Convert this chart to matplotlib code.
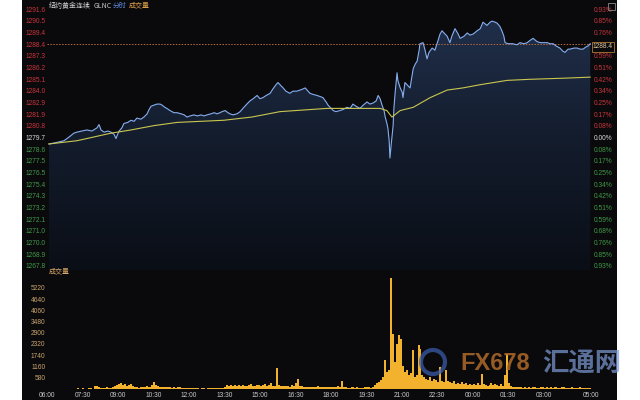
import numpy as np
import matplotlib
matplotlib.use("Agg")
import matplotlib.pyplot as plt
from matplotlib.patches import Rectangle, Circle
from matplotlib.colors import LinearSegmentedColormap

plt.rcParams['font.family'] = ['Liberation Sans', 'Noto Sans CJK SC', 'DejaVu Sans']

# ---------------- data ----------------
ref_close = 1279.7
# minutes after 06:00
price_minutes = [5, 20, 43, 58, 68, 76, 89, 101, 114, 127, 132, 137, 145, 155, 162, 170, 175, 178, 183, 190,
                 195, 205, 213, 221, 228, 238, 246, 254, 259, 264, 271, 279, 287, 292, 299, 304, 312, 322, 330, 340,
                 348, 355, 363, 373, 381, 391, 398, 406, 416, 424, 431, 439, 444, 452, 459, 464, 472, 482, 490, 497,
                 507, 515, 523, 533, 540, 548, 556, 566, 573, 581, 586, 591, 599, 606, 616, 624, 634, 642, 649, 655,
                 662, 667, 675, 685, 693, 700, 708, 713, 721, 726, 733, 743, 751, 761, 769, 776, 784, 794, 802, 812,
                 819, 827, 835, 840, 845, 850, 855, 858, 863, 865, 868, 870, 873, 878, 880, 883, 888, 890, 896, 901,
                 903, 908, 916, 921, 929, 934, 939, 944, 946, 954, 959, 964, 969, 977, 984, 992, 997, 1002, 1010, 1015,
                 1022, 1027, 1035, 1043, 1048, 1058, 1066, 1073, 1081, 1091, 1099, 1106, 1116, 1124, 1129, 1137, 1142, 1149, 1154, 1159,
                 1162, 1170, 1182, 1192, 1200, 1210, 1218, 1225, 1233, 1243, 1251, 1261, 1269, 1276, 1284, 1291, 1301, 1309, 1314, 1322,
                 1327, 1337, 1345, 1352, 1360, 1367, 1373, 1378]
prices = [1279.1, 1279.2, 1279.4, 1279.8, 1280.1, 1280.2, 1280.3, 1280.4, 1280.3, 1280.6, 1280.9, 1280.4, 1280.2, 1280.3, 1280.2, 1280.0, 1279.6, 1279.9, 1280.3, 1280.6,
          1281.0, 1281.1, 1281.3, 1281.2, 1281.5, 1281.4, 1281.6, 1281.9, 1282.3, 1282.6, 1282.7, 1282.8, 1282.8, 1282.7, 1282.5, 1282.4, 1282.2, 1282.0, 1282.0, 1281.9,
          1281.8, 1281.6, 1281.7, 1281.8, 1281.7, 1281.8, 1281.7, 1281.8, 1281.9, 1282.0, 1281.9, 1282.0, 1282.1, 1282.2, 1282.0, 1281.9, 1281.8, 1281.9, 1282.1, 1282.4,
          1282.8, 1283.1, 1283.3, 1283.6, 1283.3, 1283.4, 1283.6, 1283.8, 1284.2, 1284.6, 1284.8, 1284.6, 1284.3, 1284.0, 1283.8, 1284.0, 1284.0, 1284.1, 1284.2, 1284.3,
          1284.0, 1283.8, 1283.7, 1283.6, 1283.5, 1283.4, 1283.0, 1282.7, 1282.4, 1282.2, 1282.1, 1282.2, 1282.3, 1282.5, 1282.4, 1282.8, 1282.6, 1282.4, 1282.7, 1283.0,
          1282.8, 1282.9, 1283.1, 1283.6, 1283.3, 1282.7, 1282.2, 1281.6, 1280.9, 1280.5, 1279.4, 1277.8, 1279.0, 1280.8, 1282.4, 1283.8, 1285.7, 1285.0, 1284.3, 1283.9,
          1283.4, 1284.8, 1284.5, 1284.3, 1286.1, 1286.5, 1286.8, 1287.8, 1288.4, 1288.5, 1287.8, 1287.0, 1287.6, 1288.0, 1287.8, 1288.7, 1289.3, 1289.6, 1289.3, 1289.1,
          1288.5, 1289.1, 1289.8, 1289.3, 1288.9, 1289.1, 1289.4, 1289.2, 1289.3, 1289.6, 1289.8, 1290.4, 1290.1, 1290.4, 1290.5, 1290.4, 1290.3, 1290.0, 1289.6, 1289.1,
          1288.5, 1288.4, 1288.4, 1288.3, 1288.5, 1288.4, 1288.5, 1288.7, 1288.9, 1288.6, 1288.5, 1288.5, 1288.5, 1288.4, 1288.4, 1288.2, 1288.0, 1287.7, 1287.6, 1287.9,
          1287.9, 1288.0, 1288.0, 1287.9, 1287.9, 1288.1, 1288.2, 1288.4]

avg_minutes = [5, 76, 162, 213, 271, 330, 449, 520, 591, 710, 845, 862, 875, 896, 929, 972, 1015, 1055, 1099, 1167, 1225, 1309, 1378]
avg_prices = [1279.1, 1279.4, 1280.1, 1280.4, 1280.8, 1281.1, 1281.3, 1281.6, 1282.1, 1282.4, 1282.4, 1282.2, 1281.6, 1282.2, 1282.5,
              1283.4, 1284.1, 1284.3, 1284.6, 1285.0, 1285.1, 1285.2, 1285.3]

# volume per 5-minute bin, one row per hour starting 06:00
volume = [
    20, 10, 15, 10, 20, 10, 15, 10, 20, 25, 15, 10,          # 06
    15, 20, 10, 30, 15, 20, 40, 20, 15, 30, 60, 20,          # 07
    180, 140, 120, 60, 40, 50, 80, 60, 50, 120, 160, 200,    # 08
    250, 300, 220, 260, 180, 200, 240, 160, 120, 80, 60, 100,  # 09
    120, 90, 140, 80, 100, 200, 360, 220, 160, 120, 90, 80,  # 10
    100, 80, 120, 70, 90, 60, 110, 80, 60, 50, 70, 60,       # 11
    40, 30, 50, 30, 40, 20, 30, 40, 20, 30, 50, 30,          # 12
    30, 40, 60, 30, 50, 40, 80, 200, 160, 220, 180, 200,     # 13
    180, 220, 160, 200, 180, 140, 200, 240, 180, 160, 200, 220,  # 14
    180, 200, 260, 180, 220, 300, 160, 140, 1100, 200, 180, 160,  # 15
    180, 140, 160, 120, 200, 140, 300, 520, 160, 140, 120, 100,  # 16
    100, 120, 80, 100, 90, 140, 80, 100, 120, 80, 90, 110,   # 17
    120, 80, 100, 140, 90, 400, 100, 80, 60, 70, 90, 80,     # 18
    60, 80, 50, 70, 60, 90, 100, 80, 60, 120, 200, 300,      # 19
    350, 450, 600, 1500, 900, 1000, 5730, 2840, 1400, 2320, 2790, 2580,  # 20
    1200, 900, 1000, 700, 800, 2010, 600, 700, 2270, 2060, 700, 600,     # 21
    500, 450, 600, 400, 500, 450, 350, 1135, 400, 350, 980, 400,         # 22
    350, 300, 400, 250, 300, 280, 350, 250, 300, 200, 260, 220,          # 23
    250, 200, 300, 220, 775, 250, 200, 180, 220, 300, 200, 250,          # 00
    200, 180, 250, 150, 720, 1800, 300, 150, 120, 100, 80, 90,           # 01
    80, 60, 90, 70, 100, 60, 80, 120, 70, 60, 90, 80,                    # 02
    60, 80, 70, 90, 60, 120, 80, 70, 60, 80, 100, 70,                    # 03
    60, 50, 80, 60, 70, 50, 90, 60, 50, 40, 60, 50,                      # 04
]

price_tick_labels = ['1291.6', '1290.5', '1289.4', '1288.4', '1287.3', '1286.2', '1285.1', '1284.0', '1282.9',
                     '1281.9', '1280.8', '1279.7', '1278.6', '1277.5', '1276.5', '1275.4', '1274.3', '1273.2',
                     '1272.1', '1271.0', '1270.0', '1268.9', '1267.8']
pct_tick_labels = ['0.93%', '0.85%', '0.76%', '0.68%', '0.59%', '0.51%', '0.42%', '0.34%', '0.25%', '0.17%', '0.08%',
                   '0.00%', '0.08%', '0.17%', '0.25%', '0.34%', '0.42%', '0.51%', '0.59%', '0.68%', '0.76%', '0.85%', '0.93%']
vol_ticks = [580, 1160, 1740, 2320, 2900, 3480, 4060, 4640, 5220]
time_labels = ['06:00', '07:30', '09:00', '10:30', '12:00', '13:30', '15:00', '16:30', '18:00', '19:30',
               '21:00', '22:30', '00:00', '01:30', '03:00', '05:00']
time_label_minutes = [0, 90, 180, 270, 360, 450, 540, 630, 720, 810, 900, 990, 1080, 1170, 1260, 1380]
last_price_label = '1288.4'

# ---------------- style ----------------
BG = '#0a0a0c'
RED = '#c8343c'
GREEN = '#3f9a48'
WHITE = '#d8d8d8'
TAN = '#c9a46c'
FS = 4.8
W, H = 640, 400

fig = plt.figure(figsize=(6.4, 4.0), dpi=100, facecolor='white')
fig.patches.append(Rectangle((22 / W, 0), (617 - 22) / W, 1, transform=fig.transFigure,
                             facecolor=BG, edgecolor='none', zorder=-10))

xl, xr = 47 / W, 591 / W
ax = fig.add_axes([xl, 1 - 270 / H, xr - xl, 270 / H])
axv = fig.add_axes([xl, 1 - 389 / H, xr - xl, (389 - 272) / H])
for a in (ax, axv):
    a.set_facecolor('none')
    for s in a.spines.values():
        s.set_visible(False)

tmax = 1380
step = ref_close * 0.000847
tick_vals = [ref_close + k * step for k in range(11, -12, -1)]
per_px = (tick_vals[0] - tick_vals[-1]) / (266 - 9)
ytop = tick_vals[0] + 9 * per_px
ybot = tick_vals[-1] - 4 * per_px

# gradient area under price
poly = ax.fill_between(price_minutes, prices, ybot, facecolor='none', edgecolor='none')
cmap = LinearSegmentedColormap.from_list('g', ['#0a0e16', '#141d2e', '#22324f'])
grad = np.linspace(0, 1, 256).reshape(-1, 1)
im = ax.imshow(grad, extent=[0, tmax, ybot, ytop], origin='lower', cmap=cmap, aspect='auto', zorder=1)
im.set_clip_path(poly.get_paths()[0], transform=ax.transData)
ax.set_xlim(0, tmax)
ax.set_ylim(ybot, ytop)

ax.plot(price_minutes, prices, color='#86aef0', lw=0.8, zorder=3)
ax.plot(avg_minutes, avg_prices, color='#c9c650', lw=0.8, zorder=3)
ax.axhline(prices[-1], color='#b86a3a', lw=0.7, ls=(0, (1.5, 1.5)), zorder=2)

ax.set_yticks(tick_vals)
ax.set_yticklabels(price_tick_labels)
ax.set_xticks([])
ax.tick_params(axis='y', length=0, pad=1, labelsize=FS)
for i, t in enumerate(ax.get_yticklabels()):
    t.set_color(RED if i < 11 else (WHITE if i == 11 else GREEN))

ax2 = ax.twinx()
ax2.set_ylim(ybot, ytop)
ax2.set_facecolor('none')
for s in ax2.spines.values():
    s.set_visible(False)
ax2.set_yticks(tick_vals)
ax2.set_yticklabels(pct_tick_labels)
ax2.tick_params(axis='y', length=0, pad=2, labelsize=FS)
for i, t in enumerate(ax2.get_yticklabels()):
    t.set_color(RED if i < 11 else (WHITE if i == 11 else GREEN))
    if i == 3:
        t.set_visible(False)   # hidden behind the last-price box in the reference

# volume
vol_x = np.arange(len(volume)) * 5 + 2.5
axv.bar(vol_x, volume, width=5, color='#f2b22e', edgecolor='none', zorder=2)
axv.set_xlim(0, tmax)
axv.set_ylim(0, (389 - 272) * (580 / 11.25))
axv.set_yticks(vol_ticks)
axv.set_yticklabels([str(v) for v in vol_ticks])
axv.tick_params(axis='y', length=0, pad=1, labelsize=FS, labelcolor=TAN)
axv.set_xticks(time_label_minutes)
axv.set_xticklabels(time_labels)
axv.tick_params(axis='x', length=0, pad=2.5, labelsize=FS, labelcolor='#c8c8c8')

# header texts
cjk = ['Noto Sans CJK SC', 'DejaVu Sans']
ty = 1 - 5.5 / H
fig.text(49 / W, ty, '纽约黄金连续', color='#d0d0d0', fontsize=5, family=cjk, va='center', ha='left')
fig.text(94 / W, ty, 'GLNC', color='#c8c8c8', fontsize=5, family=cjk, va='center', ha='left')
fig.text(113 / W, ty, '分时', color='#5a88d8', fontsize=5, family=cjk, va='center', ha='left')
fig.text(129 / W, ty, '成交量', color='#e0a04a', fontsize=5, family=cjk, va='center', ha='left')
fig.text(49 / W, 1 - 271 / H, '成交量', color='#d8a868', fontsize=5, family=cjk, va='center', ha='left')

# last price box
fig.text(593 / W, 1 - 47 / H, last_price_label, color='#e0c8a0', fontsize=FS, va='center', ha='left',
         bbox=dict(facecolor=BG, edgecolor='#b07838', lw=0.6, pad=0.8), zorder=10)
fig.patches.append(Rectangle((608 / W, 1 - 10 / H), 7 / W, 7 / H, transform=fig.transFigure,
                             facecolor='none', edgecolor='#8a8a8a', lw=0.6, zorder=5))

# watermark
fig.patches.append(Circle((4.33, 0.38), 0.12, transform=fig.dpi_scale_trans, facecolor='none',
                          edgecolor='#3a5aa8', lw=3, alpha=0.75, zorder=6))
fig.text(460 / W, 1 - 364 / H, 'FX678', color='#b06a2a', alpha=0.85, fontsize=17, fontweight='bold',
         family=['Liberation Sans', 'DejaVu Sans'], va='center', ha='left', zorder=6)
fig.text(542 / W, 1 - 364 / H, '汇通网', color='#7d9bd6', alpha=0.7, fontsize=19, fontweight='bold',
         family=cjk, va='center', ha='left', zorder=6)

fig.savefig('out.png', dpi=100, facecolor='white')
